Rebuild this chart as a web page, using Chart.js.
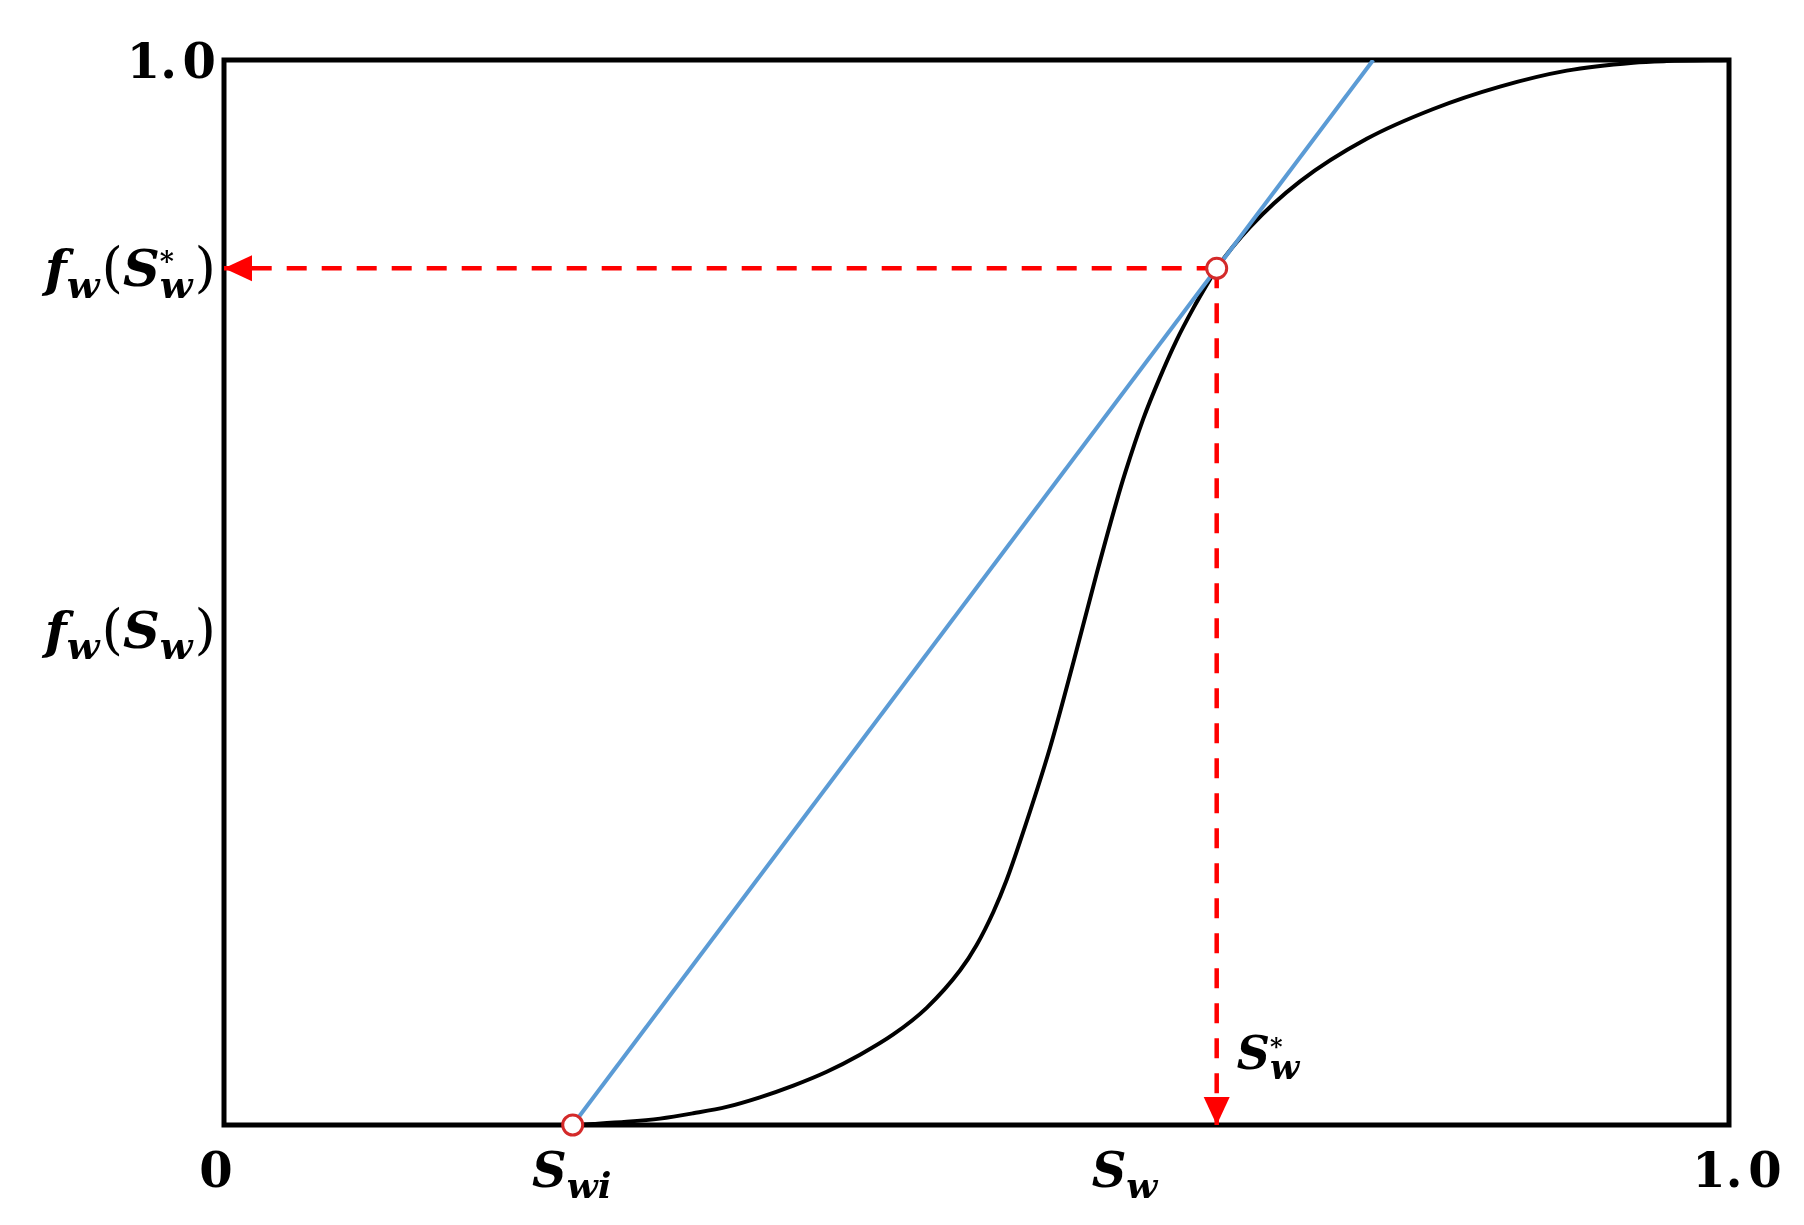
<!DOCTYPE html>
<html>
<head>
<meta charset="utf-8">
<title>Fractional flow curve</title>
<script src="https://cdn.jsdelivr.net/npm/chart.js@4.4.1/dist/chart.umd.min.js"></script>
<style>
  html, body { margin: 0; padding: 0; background: #fff; }
  #wrap { width: 1804px; height: 1225px; }
</style>
</head>
<body>
<div id="wrap"><canvas id="chart" width="1804" height="1225"></canvas></div>
<script>
// fractional flow curve f_w(S_w)
const fracX = [0.2317, 0.2454, 0.2676, 0.2897, 0.3118, 0.3340, 0.3561, 0.3783, 0.4005, 0.4226,
               0.4447, 0.4669, 0.4890, 0.5001, 0.5112, 0.5200, 0.5289, 0.5488, 0.5643, 0.5799,
               0.5932, 0.5987, 0.6108, 0.6219, 0.6330, 0.6441, 0.6551, 0.6596, 0.6817, 0.7150,
               0.7593, 0.8035, 0.8478, 0.8922, 0.9364, 0.9586, 1.0];
const fracY = [0, 0.001, 0.003, 0.006, 0.011, 0.017, 0.026, 0.037, 0.050, 0.066,
               0.085, 0.110, 0.145, 0.169, 0.200, 0.230, 0.266, 0.354, 0.434, 0.518,
               0.586, 0.612, 0.663, 0.702, 0.737, 0.767, 0.794, 0.8044, 0.843, 0.886,
               0.926, 0.954, 0.975, 0.990, 0.9975, 0.999, 1.0];

// tangent from S_wi
const tangentX = [0.2317, 0.7636];
const tangentY = [0, 1.0];

// open circles: S_wi and the tangent point
const markerX = [0.2317, 0.6596];
const markerY = [0, 0.8044];

// dashed red arrows (from tangent point to the axes)
const arrowH_X = [0.6596, 0];
const arrowH_Y = [0.8044, 0.8044];
const arrowV_X = [0.6596, 0.6596];
const arrowV_Y = [0.8044, 0];

// axis labels
const xTickValues = [0, 0.2317, 0.599, 1.0];
const xTickLabels = ['0', 'S_{wi}', 'S_{w}', '1.0'];
const yTickValues = [1.0, 0.8044, 0.465];
const yTickLabels = ['1.0', 'f_{w}(S^{*}_{w})', 'f_{w}(S_{w})'];
const starLabel = 'S^{*}_{w}';
const starX = 0.6596;
const starY = 0.069;

function pts(xs, ys) {
  return xs.map((x, i) => ({ x: x, y: ys[i] }));
}

// tiny parser: plain text, _{sub}, ^{sup}
function parseRich(str) {
  const re = /_\{([^}]*)\}|\^\{([^}]*)\}|([^_^]+)/g;
  let out = [], m;
  while ((m = re.exec(str)) !== null) {
    if (m[1] !== undefined) out.push({ type: 'sub', text: m[1] });
    else if (m[2] !== undefined) out.push({ type: 'sup', text: m[2] });
    else out.push({ type: 'base', text: m[3] });
  }
  return out;
}

function fontFor(ch, size) {
  if (/[A-Za-z]/.test(ch)) return 'italic bold ' + size + 'px "DejaVu Serif"';
  if (ch === '(' || ch === ')') return 'normal ' + Math.round(size * 1.08) + 'px "DejaVu Serif"';
  return 'bold ' + size + 'px "DejaVu Serif"';
}

function drawRich(ctx, str, x, y, size, align) {
  const toks = parseRich(str);
  const subSize = Math.round(size * 0.74), supSize = Math.round(size * 0.52);
  // layout pass
  let items = [], cx = 0, i = 0;
  while (i < toks.length) {
    const t = toks[i];
    if (t.type === 'base') {
      for (const ch of t.text) {
        items.push({ ch: ch, x: cx, dy: 0, size: size });
        ctx.font = fontFor(ch, size);
        cx += ctx.measureText(ch).width;
        if (ch === '.') cx += size * 0.12;
      }
      i++;
    } else {
      // a sup and a sub next to each other are stacked
      let group = [t];
      if (i + 1 < toks.length && toks[i + 1].type !== 'base' && toks[i + 1].type !== t.type) group.push(toks[i + 1]);
      let adv = 0;
      group.forEach(g => {
        const s = g.type === 'sub' ? subSize : supSize;
        const dy = g.type === 'sub' ? size * 0.22 : -size * 0.3;
        let gx = cx;
        for (const ch of g.text) {
          items.push({ ch: ch, x: gx, dy: dy, size: s });
          ctx.font = fontFor(ch, s);
          gx += ctx.measureText(ch).width;
        }
        adv = Math.max(adv, gx - cx);
      });
      cx += adv + size * 0.04;
      i += group.length;
    }
  }
  let x0 = x;
  if (align === 'center') x0 = x - cx / 2;
  else if (align === 'right') x0 = x - cx;
  ctx.save();
  ctx.fillStyle = '#000';
  ctx.textBaseline = 'alphabetic';
  ctx.textAlign = 'left';
  items.forEach(it => {
    ctx.font = fontFor(it.ch, it.size);
    ctx.fillText(it.ch, x0 + it.x, y + it.dy);
  });
  ctx.restore();
}

const framePlugin = {
  id: 'frame',
  beforeDatasetsDraw(chart) {
    const a = chart.chartArea, ctx = chart.ctx;
    ctx.save();
    ctx.strokeStyle = '#000';
    ctx.lineWidth = 5;
    ctx.strokeRect(a.left, a.top, a.right - a.left, a.bottom - a.top);
    ctx.restore();
  }
};

// arrow heads at the end of the dashed lines
const arrowPlugin = {
  id: 'arrows',
  afterDatasetsDraw(chart) {
    const ctx = chart.ctx;
    chart.data.datasets.forEach((ds, di) => {
      if (!ds.arrow) return;
      const pts = chart.getDatasetMeta(di).data;
      const p1 = pts[pts.length - 2], p2 = pts[pts.length - 1];
      const ang = Math.atan2(p2.y - p1.y, p2.x - p1.x);
      const len = 28, half = 13;
      ctx.save();
      ctx.fillStyle = ds.borderColor;
      ctx.translate(p2.x, p2.y);
      ctx.rotate(ang);
      ctx.beginPath();
      ctx.moveTo(0, 0);
      ctx.lineTo(-len, -half);
      ctx.lineTo(-len, half);
      ctx.closePath();
      ctx.fill();
      ctx.restore();
    });
  }
};

const labelPlugin = {
  id: 'labels',
  afterDraw(chart) {
    const ctx = chart.ctx, xs = chart.scales.x, ys = chart.scales.y, a = chart.chartArea;
    const last = xTickValues.length - 1;
    xTickValues.forEach((v, i) => {
      // end labels sit slightly outside the frame corners
      const nudge = i === 0 ? -8 : (i === last ? 8 : 0);
      drawRich(ctx, xTickLabels[i], xs.getPixelForValue(v) + nudge, a.bottom + 62, 48, 'center');
    });
    yTickValues.forEach((v, i) => {
      const size = /[a-z]/i.test(yTickLabels[i]) ? 51 : 48;
      drawRich(ctx, yTickLabels[i], a.left - 8, ys.getPixelForValue(v) + 18, size, 'right');
    });
    drawRich(ctx, starLabel, xs.getPixelForValue(starX) + 20, ys.getPixelForValue(starY) + 17, 46, 'left');
  }
};

const red = '#ff0000';

const config = {
  type: 'scatter',
  data: {
    datasets: [
      {
        label: 'points',
        data: pts(markerX, markerY),
        showLine: false,
        pointRadius: 10,
        pointBorderWidth: 3,
        pointBorderColor: '#d42a2a',
        pointBackgroundColor: '#ffffff',
        clip: false
      },
      {
        label: 'to y axis',
        data: pts(arrowH_X, arrowH_Y),
        showLine: true,
        borderColor: red,
        borderWidth: 4.5,
        borderDash: [20, 15],
        pointRadius: 0,
        arrow: true,
        clip: false
      },
      {
        label: 'to x axis',
        data: pts(arrowV_X, arrowV_Y),
        showLine: true,
        borderColor: red,
        borderWidth: 4.5,
        borderDash: [20, 15],
        pointRadius: 0,
        arrow: true,
        clip: false
      },
      {
        label: 'tangent',
        data: pts(tangentX, tangentY),
        showLine: true,
        borderColor: '#5b9bd5',
        borderWidth: 4,
        pointRadius: 0
      },
      {
        label: 'fw(Sw)',
        data: pts(fracX, fracY),
        showLine: true,
        borderColor: '#000000',
        borderWidth: 4,
        pointRadius: 0,
        cubicInterpolationMode: 'monotone',
        clip: false
      }
    ]
  },
  options: {
    responsive: false,
    animation: false,
    layout: { padding: { left: 224, top: 60, right: 75, bottom: 100 } },
    scales: {
      x: { type: 'linear', min: 0, max: 1, display: false },
      y: { type: 'linear', min: 0, max: 1, display: false }
    },
    plugins: {
      legend: { display: false },
      tooltip: { enabled: false }
    }
  },
  plugins: [framePlugin, arrowPlugin, labelPlugin]
};

const myChart = new Chart(document.getElementById('chart'), config);
</script>
</body>
</html>
